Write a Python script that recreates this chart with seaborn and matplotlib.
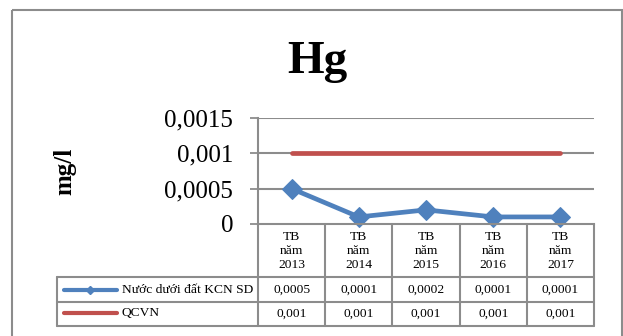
import pandas as pd
import seaborn as sns
import matplotlib.pyplot as plt
from matplotlib.lines import Line2D
from matplotlib.patches import Rectangle

# data
years = ["2013", "2014", "2015", "2016", "2017"]
hg_values = [0.0005, 0.0001, 0.0002, 0.0001, 0.0001]
qcvn_values = [0.001, 0.001, 0.001, 0.001, 0.001]
hg_text = ["0,0005", "0,0001", "0,0002", "0,0001", "0,0001"]
qcvn_text = ["0,001", "0,001", "0,001", "0,001", "0,001"]
series_names = ["Nước dưới đất KCN SD", "QCVN"]
y_ticks = [0, 0.0005, 0.001, 0.0015]
y_tick_labels = ["0", "0,0005", "0,001", "0,0015"]

blue = "#4F81BD"
red = "#C0504D"
grey = "#8C8C8C"

sns.set_style("white")
plt.rcParams["font.family"] = ["Liberation Serif", "DejaVu Serif"]
plt.rcParams["text.color"] = "black"
plt.rcParams["axes.labelcolor"] = "black"
plt.rcParams["ytick.labelcolor"] = "black"

W, H = 623, 336
fig = plt.figure(figsize=(W / 100, H / 100), dpi=100)

# overlay in pixel coordinates for frame and data table
ov = fig.add_axes([0, 0, 1, 1], zorder=0)
ov.set_xlim(0, W)
ov.set_ylim(H, 0)
ov.axis("off")

ax = fig.add_axes([258 / W, 1 - 224 / H, (594 - 258) / W, (224 - 118) / H], zorder=1)
ax.patch.set_alpha(0)

df = pd.DataFrame({"pos": range(len(years)), "hg": hg_values, "qcvn": qcvn_values})
sns.lineplot(data=df, x="pos", y="qcvn", color=red, lw=3.4, ax=ax, legend=False)
sns.lineplot(data=df, x="pos", y="hg", color=blue, lw=3.4, marker="D", markersize=10,
             markeredgecolor=blue, ax=ax, legend=False)
for ln in ax.lines:
    ln.set_clip_on(False)
    ln.set_solid_capstyle("round")

ax.set_xlim(-0.5, len(years) - 0.5)
ax.set_ylim(0, 0.0015)
ax.set_yticks(y_ticks)
ax.set_yticklabels(y_tick_labels, fontsize=18)
ax.set_xticks([])
ax.set_xlabel("")
ax.set_ylabel("mg/l", fontsize=18, fontweight="bold")
ax.yaxis.set_label_coords(-0.542, 0.5)
ax.tick_params(axis="y", direction="out", length=6, width=1.3, color=grey, pad=12, left=True)
for y in y_ticks[1:]:
    ax.axhline(y, color=grey, lw=1.5, zorder=0)
for s in ["top", "right"]:
    ax.spines[s].set_visible(False)
for s in ["left", "bottom"]:
    ax.spines[s].set_color(grey)
    ax.spines[s].set_linewidth(1.5)

fig.text(317 / W, 1 - 73 / H, "Hg", ha="center", va="baseline", fontsize=34, fontweight="bold")

# outer chart frame
ov.add_patch(Rectangle((11.5, 9.5), 610, 340, fill=False, ec=grey, lw=1.5, clip_on=False))

# data table
def px(xd):
    return ax.transData.transform((xd, 0))[0]

bounds = [px(i - 0.5) for i in range(len(years) + 1)]
centers = [px(i) for i in range(len(years))]
y_top, y_r1, y_r2, y_bot = 224, 277, 302, 325.5
left = 57
for xb in bounds:
    ov.add_line(Line2D([xb, xb], [y_top, y_bot], color=grey, lw=1.5))
ov.add_line(Line2D([left, left], [y_r1, y_bot], color=grey, lw=1.5))
for yy in [y_r1, y_r2, y_bot]:
    ov.add_line(Line2D([left, bounds[-1]], [yy, yy], color=grey, lw=1.5))

for c, yr, t1, t2 in zip(centers, years, hg_text, qcvn_text):
    ov.text(c, 251, "TB\nnăm\n" + yr, ha="center", va="center", fontsize=9.7, linespacing=1.25)
    ov.text(c, 290, t1, ha="center", va="center", fontsize=9.7)
    ov.text(c, 314, t2, ha="center", va="center", fontsize=9.7)

ov.add_line(Line2D([64, 117], [290, 290], color=blue, lw=3, solid_capstyle="round"))
ov.add_line(Line2D([90], [290], color=blue, marker="D", markersize=4.5))
ov.add_line(Line2D([64, 117], [313, 313], color=red, lw=3, solid_capstyle="round"))
ov.text(122, 290, series_names[0], ha="left", va="center", fontsize=9.7)
ov.text(122, 313, series_names[1], ha="left", va="center", fontsize=9.7)

fig.savefig("out.png", dpi=100)
